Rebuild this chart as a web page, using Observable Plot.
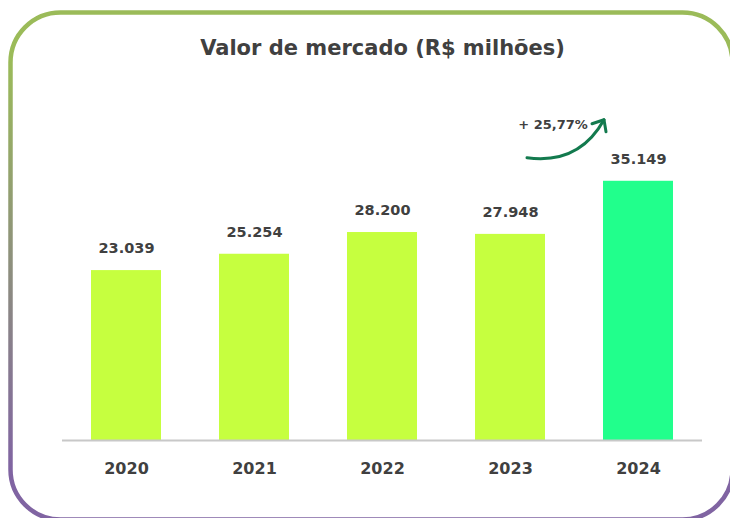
<!DOCTYPE html>
<html>
<head>
<meta charset="utf-8">
<script src="https://cdn.jsdelivr.net/npm/d3@7"></script>
<script src="https://cdn.jsdelivr.net/npm/@observablehq/plot@0.6"></script>
<style>
  html, body { margin: 0; padding: 0; background: #ffffff; }
  #chart svg { display: block; }
</style>
</head>
<body>
<div id="chart"></div>
<script>
const years = ["2020", "2021", "2022", "2023", "2024"];
const values = [23039, 25254, 28200, 27948, 35149];
const barColors = ["#c6ff3f", "#c6ff3f", "#c6ff3f", "#c6ff3f", "#21ff8c"];
const title = "Valor de mercado (R$ milhões)";

const data = years.map((y, i) => ({year: y, value: values[i], color: barColors[i]}));
const fmt = v => d3.format(",")(v).replace(/,/g, ".");
const growth = values[4] / values[3] - 1;
const growthLabel = "+ " + (growth * 100).toFixed(2).replace(".", ",") + "%";

const textColor = "#404040";
const font = "'DejaVu Sans', sans-serif";

const border = () => {
  const g = d3.create("svg:g");
  const grad = g.append("defs").append("linearGradient")
    .attr("id", "borderGrad").attr("gradientUnits", "userSpaceOnUse")
    .attr("x1", 0).attr("y1", 60).attr("x2", 0).attr("y2", 470);
  grad.append("stop").attr("offset", 0).attr("stop-color", "#9bbb59");
  grad.append("stop").attr("offset", 1).attr("stop-color", "#8064a2");
  g.append("rect")
    .attr("x", 10.5).attr("y", 12.5).attr("width", 722).attr("height", 507)
    .attr("rx", 50).attr("ry", 50)
    .attr("fill", "none").attr("stroke", "url(#borderGrad)").attr("stroke-width", 4.5);
  return g.node();
};

// growth arrow between the 2023 and 2024 bars, anchored to the scales
const growthArrow = (index, scales) => {
  let bw = scales.x.bandwidth;
  if (typeof bw === "function") bw = bw();
  if (!(bw > 0)) bw = scales.x(years[1]) - scales.x(years[0]) - 58;
  const x0 = scales.x(years[3]) + bw / 2 + 17;   // start, right of 2023 centre
  const x1 = scales.x(years[4]) + 1;              // end, at left edge of 2024 bar
  const yTop = scales.y(values[4]);
  const y0 = yTop - 21, y1 = yTop - 61;
  const g = d3.create("svg:g")
    .attr("fill", "none").attr("stroke", "#137a4e").attr("stroke-width", 3)
    .attr("stroke-linecap", "round").attr("stroke-linejoin", "round");
  g.append("path").attr("d", `M${x0},${y0 - 2} Q${x0 + 52},${y0 + 5} ${x1},${y1}`);
  g.append("path").attr("d", `M${x1 - 12},${y1 + 4} L${x1},${y1} L${x1 + 2},${y1 + 12}`);
  return g.node();
};

const chart = Plot.plot({
  width: 730,
  height: 518,
  marginLeft: 62,
  marginRight: 28,
  marginTop: 145,
  marginBottom: 78,
  style: {fontFamily: font, color: textColor, background: "#ffffff"},
  x: {domain: years, paddingInner: 0.453, paddingOuter: 0.2265, axis: null},
  y: {domain: [0, 40000], axis: null},
  marks: [
    border,
    Plot.barY(data, {x: "year", y: "value", fill: "color"}),
    Plot.ruleY([0], {stroke: "#c8c8c8", strokeWidth: 2}),
    Plot.text(data, {x: "year", y: "value", text: d => fmt(d.value), dy: -22,
      fontSize: 14.5, fontWeight: "bold", fill: textColor}),
    Plot.text(data, {x: "year", text: "year", frameAnchor: "bottom", lineAnchor: "middle", dy: 28,
      fontSize: 16, fontWeight: "bold", fill: textColor, letterSpacing: 0.5}),
    Plot.text([title], {frameAnchor: "top", lineAnchor: "middle", dy: -97, text: d => d, dx: 0,
      fontSize: 21, fontWeight: "bold", fill: textColor, letterSpacing: 1.3}),
    growthArrow,
    Plot.text([growthLabel], {x: () => years[3], y: () => values[4], text: d => d, dx: 42.5, dy: -56,
      fontSize: 13, fontWeight: "bold", fill: textColor})
  ]
});

document.getElementById("chart").appendChild(chart);
</script>
</body>
</html>
